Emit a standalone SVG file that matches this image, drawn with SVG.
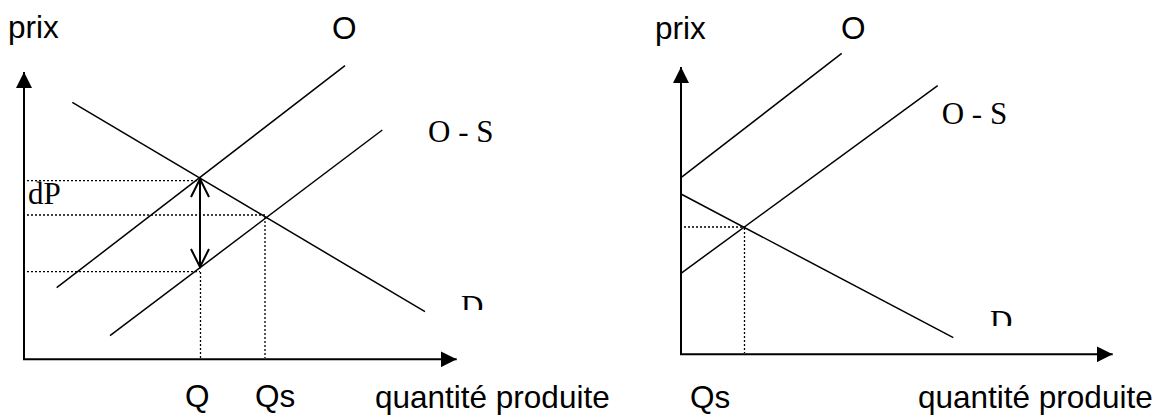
<svg xmlns="http://www.w3.org/2000/svg" width="1162" height="415" viewBox="0 0 1162 415">
<style>
.axis{stroke:#000;stroke-width:2;fill:none}
.curve{stroke:#000;stroke-width:1.5;fill:none}
.dot{stroke:#000;stroke-width:1.3;stroke-dasharray:2 2;fill:none}
.sans{font-family:"Liberation Sans",Arial,sans-serif;font-size:31.5px;fill:#000}
.serif{font-family:"Liberation Serif","Times New Roman",serif;font-size:31px;fill:#000}
</style>
<defs>
<marker id="ah" viewBox="0 0 16 16" refX="16" refY="8" markerWidth="16" markerHeight="16" markerUnits="userSpaceOnUse" orient="auto">
<path d="M0,0 L16,8 L0,16 Z" fill="#000"/>
</marker>
<clipPath id="clipL"><rect x="440" y="280" width="80" height="30"/></clipPath>
<clipPath id="clipR"><rect x="970" y="295" width="80" height="31"/></clipPath>
</defs>

<g id="chart-left">
<g id="axes-left">
<line class="axis" x1="24" y1="359.3" x2="24" y2="72" marker-end="url(#ah)"/>
<line class="axis" x1="23" y1="359.3" x2="456.7" y2="359.3" marker-end="url(#ah)"/>
</g>
<g id="connectors-left">
<line id="O-left" class="curve" x1="56.7" y1="287.7" x2="345" y2="65.7"/>
<line id="OS-left" class="curve" x1="110" y1="335.7" x2="382.3" y2="130"/>
<line id="D-left" class="curve" x1="72.3" y1="102.3" x2="425" y2="311.7"/>
<line class="dot" x1="27" y1="180.7" x2="200" y2="180.7"/>
<line class="dot" x1="27" y1="215" x2="266" y2="215"/>
<line class="dot" x1="27" y1="271.7" x2="200" y2="271.7"/>
<line class="dot" x1="200.5" y1="272" x2="200.5" y2="358"/>
<line class="dot" x1="265" y1="217" x2="265" y2="358"/>
<g id="dP-arrow">
<line class="axis" x1="200" y1="179" x2="200" y2="267"/>
<polyline class="axis" points="191,197 200,179 209,197"/>
<polyline class="axis" points="191,249 200,267 209,249"/>
</g>
</g>
<text class="sans" x="8" y="38">prix</text>
<text class="sans" x="332" y="39">O</text>
<text class="serif" x="428" y="141.7">O - S</text>
<text class="serif" x="28" y="204">dP</text>
<text class="serif" x="461" y="317.2" clip-path="url(#clipL)">D</text>
<text class="sans" x="185" y="407">Q</text>
<text class="sans" x="255" y="407">Qs</text>
<text class="sans" x="375" y="408">quantité produite</text>
</g>

<g id="chart-right">
<g id="axes-right">
<line class="axis" x1="681" y1="354.3" x2="681" y2="67" marker-end="url(#ah)"/>
<line class="axis" x1="680" y1="354.3" x2="1112.7" y2="354.3" marker-end="url(#ah)"/>
</g>
<g id="connectors-right">
<line id="O-right" class="curve" x1="681" y1="177.7" x2="841.7" y2="53.3"/>
<line id="OS-right" class="curve" x1="681" y1="273.3" x2="937.7" y2="85.7"/>
<line id="D-right" class="curve" x1="681" y1="194" x2="953.3" y2="337.7"/>
<line class="dot" x1="684" y1="227" x2="744" y2="227"/>
<line class="dot" x1="744.5" y1="228" x2="744.5" y2="353"/>
</g>
<text class="sans" x="655" y="39">prix</text>
<text class="sans" x="841" y="39">O</text>
<text class="serif" x="941.7" y="124">O - S</text>
<text class="serif" x="990" y="332.2" clip-path="url(#clipR)">D</text>
<text class="sans" x="690" y="408">Qs</text>
<text class="sans" x="918" y="408">quantité produite</text>
</g>
</svg>
